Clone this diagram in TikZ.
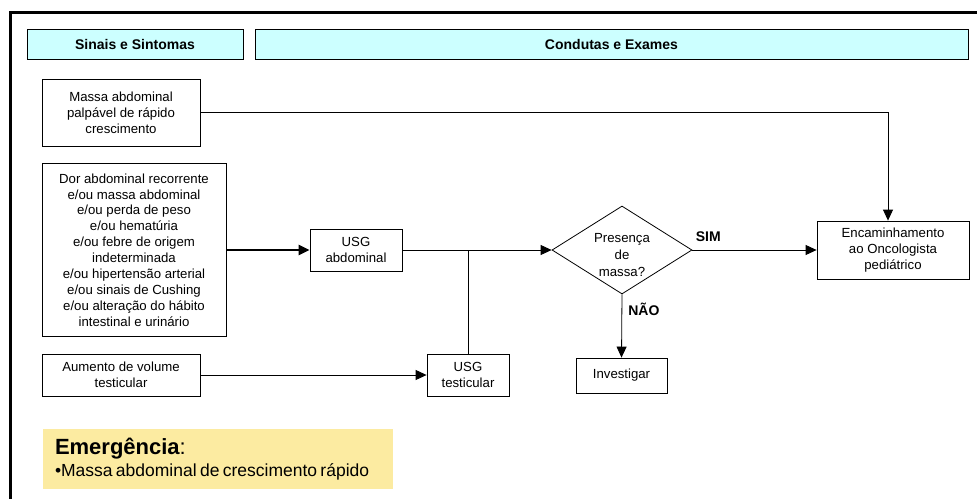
\documentclass[tikz,border=0pt]{standalone}
\usepackage{fontspec}
\setmainfont{Liberation Sans}
\usetikzlibrary{shapes.geometric}
\usetikzlibrary{arrows.meta}
\definecolor[named]{HeadCyan}{HTML}{CCFFFF}
\definecolor[named]{EmergYellow}{HTML}{FCEBA1}
\newcommand{\boxfont}{\fontsize{13.2}{15.9}\selectfont}
\newcommand{\headfont}{\fontsize{14}{16}\selectfont\bfseries}
\tikzset{
  box/.style={draw, fill=white, line width=0.8pt, inner sep=0pt,
    align=center, font=\boxfont},
  head/.style={draw, fill=HeadCyan, line width=0.9pt, inner sep=0pt,
    minimum height=30pt, font=\headfont},
  decision/.style={box, diamond, aspect=1.6},
  flow/.style={line width=0.8pt, -{Triangle[length=11pt,width=10pt]}},
  wire/.style={line width=0.8pt},
  answer/.style={inner sep=0pt, font=\headfont},
}

\begin{document}
\begin{tikzpicture}[x=1pt,y=-1pt]
    \useasboundingbox (0,0) rectangle (977,498);
    % Frame
    \draw[line width=3pt] (10,520) -- (10,12) -- (1000,12);
    % Headers
    \node[head, minimum width=216pt] (sinais) at (135,44) {Sinais e Sintomas};
    \node[head, minimum width=713pt] (condutas) at (611.5,44) {Condutas e Exames};
    % Boxes
    \node[box, minimum width=158pt, minimum height=67pt] (massa) at (121,112.5)
      {Massa abdominal\\palpável de rápido\\crescimento};
    \node[box, minimum width=184pt, minimum height=173pt] (dor) at (134,250)
      {Dor abdominal recorrente\\e/ou massa abdominal\\e/ou perda de peso\\
       e/ou hematúria\\e/ou febre de origem\\indeterminada\\
       e/ou hipertensão arterial\\e/ou sinais de Cushing\\
       e/ou alteração do hábito\\intestinal e urinário};
    \node[box, minimum width=158pt, minimum height=42pt] (aumento) at (121,375)
      {Aumento de volume\\testicular};
    \node[box, minimum width=92pt, minimum height=42pt] (usgabd) at (356,250)
      {USG\\abdominal};
    \node[box, minimum width=82pt, minimum height=42pt] (usgtest) at (468,375)
      {USG\\testicular};
    \node[decision, minimum width=140pt, minimum height=88pt] (presenca) at (622,250)
      {\raisebox{-9pt}[0pt][0pt]{\begin{tabular}{@{}c@{}}Presença\\[1pt]de\\[1pt]massa?\end{tabular}}};
    \node[box, minimum width=152pt, minimum height=58pt] (encam) at (893,250)
      {Encaminhamento\\ao Oncologista\\pediátrico};
    \node[box, minimum width=91pt, minimum height=35pt] (investigar) at (621.5,375.5)
      {Investigar};
    \node[fill=EmergYellow, minimum width=350pt, minimum height=60pt,
      text width=326pt, inner sep=0pt, align=left] (emerg) at (218,459)
      {{\fontsize{22}{24}\selectfont\bfseries Emergência}{\fontsize{22}{24}\selectfont:}\\[3pt]
       {\fontsize{17.5}{19}\selectfont •Massa abdominal de crescimento rápido}};
    % Arrows
    \coordinate (join) at (usgtest.north |- usgabd.east);
    \draw[flow] (massa.east) -| ([xshift=-5pt]encam.north);
    \draw[flow, line width=2.2pt] (dor.east |- usgabd.west) -- (usgabd.west);
    \draw[flow] (usgabd.east) -- (presenca.west);
    \draw[flow] (aumento.east) -- (usgtest.west);
    \draw[wire] (usgtest.north) -- (join);
    \draw[flow] (presenca.east) -- (encam.west)
      node[answer, pos=0, anchor=south west, xshift=3pt, yshift=8pt] (sim) {SIM};
    \draw[flow] (presenca.south) -- (investigar.north)
      node[answer, pos=0.23, anchor=west, xshift=6pt] (nao) {NÃO};
\end{tikzpicture}
\end{document}
